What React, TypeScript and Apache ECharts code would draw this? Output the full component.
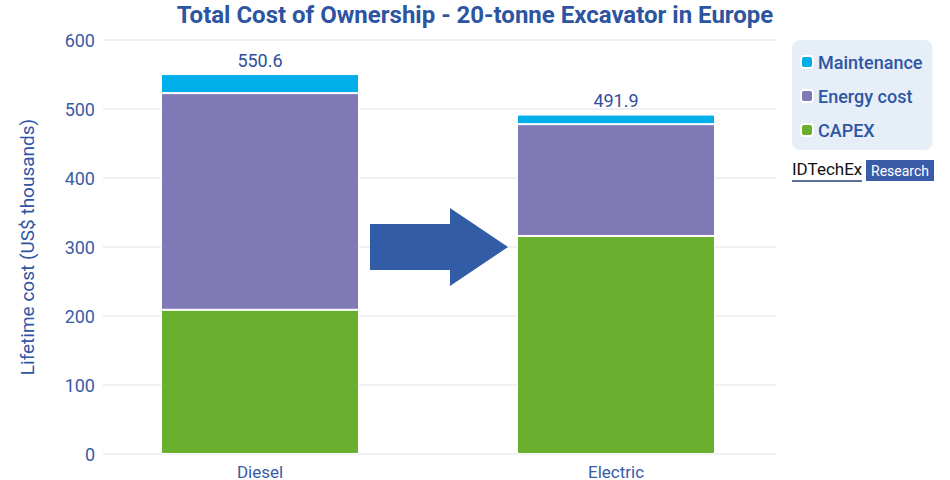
import React, { useEffect, useRef } from "react";
import * as echarts from "echarts";

const categories = ["Diesel", "Electric"];
const capex = [209, 316];
const energyCost = [314, 162];
const maintenance = [27.6, 13.9];
const yTicks = { min: 0, max: 600, interval: 100 };
const titleText = "Total Cost of Ownership - 20-tonne Excavator in Europe";
const yAxisName = "Lifetime cost (US$ thousands)";

const BLUE = "#2F55A4";
const FONT = "Roboto";

export default function App() {
  const ref = useRef<HTMLDivElement>(null);
  useEffect(() => {
    document.body.style.margin = "0";
    const chart = echarts.init(ref.current!, undefined, { renderer: "svg" });
    const totals = categories.map((_, i) =>
      Math.round((capex[i] + energyCost[i] + maintenance[i]) * 10) / 10
    );
    chart.setOption({
      animation: false,
      textStyle: { fontFamily: FONT },
      title: {
        text: titleText,
        left: "center",
        top: -2,
        textStyle: { fontFamily: FONT, fontSize: 24, fontWeight: "bold", color: "#2D54A0" },
      },
      legend: {
        orient: "vertical",
        left: 792,
        top: 40,
        data: ["Maintenance", "Energy cost", "CAPEX"],
        icon: "roundRect",
        itemWidth: 12,
        itemHeight: 12,
        itemGap: 14,
        padding: [12, 10, 10, 8],
        backgroundColor: "#E6EFF8",
        borderRadius: 8,
        textStyle: { fontFamily: FONT, fontSize: 18, fontWeight: 500, color: BLUE, lineHeight: 20 },
      },
      grid: [
        { left: 103, right: 174, top: 40, bottom: 26 },
        { left: 82, right: 156, top: 40, bottom: 26 },
      ],
      xAxis: [
        {
          type: "category",
          gridIndex: 0,
          data: categories,
          show: false,
        },
        {
          type: "category",
          gridIndex: 1,
          data: categories,
          axisTick: { show: false },
          axisLine: { show: false },
          axisLabel: {
            fontFamily: FONT,
            fontSize: 17,
            color: "#3A5AA6",
            margin: 9,
          },
        },
      ],
      yAxis: [
        {
          type: "value",
          gridIndex: 0,
          min: yTicks.min,
          max: yTicks.max,
          interval: yTicks.interval,
          name: yAxisName,
          nameLocation: "middle",
          nameGap: 66,
          nameTextStyle: { fontFamily: FONT, fontSize: 19, color: BLUE },
          axisLine: { show: false },
          axisTick: { show: false },
          axisLabel: { fontFamily: FONT, fontSize: 18, color: "#3B5BA5", margin: 8 },
          splitLine: { lineStyle: { color: "#EBEBF0", width: 1.5 } },
        },
        {
          type: "value",
          gridIndex: 1,
          min: yTicks.min,
          max: yTicks.max,
          interval: yTicks.interval,
          show: false,
          splitLine: { show: false },
        },
      ],
      graphic: [
        {
          type: "polygon",
          shape: {
            points: [
              [370, 224],
              [450, 224],
              [450, 208],
              [508, 247],
              [450, 286],
              [450, 270],
              [370, 270],
            ],
          },
          style: { fill: "#325CA5" },
          z: 10,
        },
        {
          type: "text",
          left: 792,
          top: 160,
          style: { text: "IDTechEx", fontFamily: FONT, fontSize: 17, fill: "#111" },
        },
        {
          type: "line",
          shape: { x1: 792, y1: 181, x2: 862, y2: 181 },
          style: { stroke: "#2A3F7A", lineWidth: 1.5 },
        },
        {
          type: "rect",
          shape: { x: 866, y: 160, width: 68, height: 21 },
          style: { fill: "#3A5BA8" },
        },
        {
          type: "text",
          x: 900,
          y: 170.5,
          style: {
            text: "Research",
            fontFamily: FONT,
            fontSize: 14,
            fill: "#fff",
            align: "center",
            verticalAlign: "middle",
          },
        },
      ],
      series: [
        {
          name: "CAPEX",
          type: "bar",
          stack: "tco",
          xAxisIndex: 1,
          yAxisIndex: 1,
          barWidth: 198,
          data: capex,
          itemStyle: { color: "#6AB02F", borderColor: "#fff", borderWidth: 1 },
        },
        {
          name: "Energy cost",
          type: "bar",
          stack: "tco",
          xAxisIndex: 1,
          yAxisIndex: 1,
          barWidth: 198,
          data: energyCost,
          itemStyle: { color: "#7F7AB6", borderColor: "#fff", borderWidth: 1 },
        },
        {
          name: "Maintenance",
          type: "bar",
          stack: "tco",
          xAxisIndex: 1,
          yAxisIndex: 1,
          barWidth: 198,
          data: maintenance,
          itemStyle: { color: "#00AEEA", borderColor: "#fff", borderWidth: 1 },
          label: {
            show: true,
            position: "top",
            distance: 5,
            fontFamily: FONT,
            fontSize: 18,
            color: "#2F4F9A",
            formatter: (p: any) => totals[p.dataIndex].toFixed(1),
          },
        },
      ],
    });
    return () => chart.dispose();
  }, []);
  return <div ref={ref} style={{ width: 950, height: 480 }} />;
}
